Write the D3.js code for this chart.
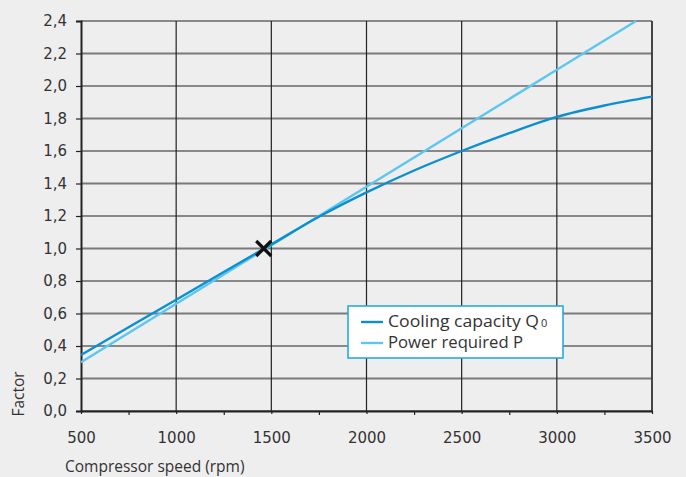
<!DOCTYPE html>
<html><head><meta charset="utf-8">
<script src="https://cdn.jsdelivr.net/npm/d3@7"></script>
<style>
html,body{margin:0;padding:0;background:#eeeeee;}
svg{display:block;font-family:"Open Sans",sans-serif;}
</style></head>
<body>
<svg id="c" width="686" height="477"></svg>
<script>
const speeds = [500, 750, 1000, 1250, 1500, 1750, 2000, 2250, 2500, 2750, 3000, 3250, 3500];
const coolingCapacity = [0.345, 0.515, 0.685, 0.855, 1.025, 1.195, 1.345, 1.48, 1.60, 1.71, 1.81, 1.88, 1.935];
const powerSpeeds = [500, 1000, 1500, 2000, 2500, 3000, 3416];
const powerRequired = [0.30, 0.66, 1.02, 1.38, 1.74, 2.10, 2.40];
const xTicks = [500, 1000, 1500, 2000, 2500, 3000, 3500];
const xMinorTicks = [750, 1250, 1750, 2250, 2750, 3250];
const yTicks = [0, 0.2, 0.4, 0.6, 0.8, 1.0, 1.2, 1.4, 1.6, 1.8, 2.0, 2.2, 2.4];
const designPoint = [1460, 1.0];
const seriesNames = ["Cooling capacity Q", "Power required P"];
const seriesSub = ["0", ""];

const TICKFONT = '"DejaVu Sans", sans-serif';
const svg = d3.select("#c");
const x = d3.scaleLinear().domain([500, 3500]).range([81, 652]);
const y = d3.scaleLinear().domain([0, 2.4]).range([411, 21]);
const fmt = d => d.toFixed(1).replace(".", ",");
const dark = "#0b8fd0", light = "#5cc6f2", txt = "#333";

// horizontal grid
yTicks.forEach((t, i) => {
  const major = i % 2 === 0;
  svg.append("line").attr("x1", x(500)).attr("x2", x(3500))
    .attr("y1", y(t)).attr("y2", y(t))
    .attr("stroke", major ? "#222" : "#7a7a7a")
    .attr("stroke-width", major ? 1.2 : 2);
});
// vertical grid
xTicks.slice(1).forEach(t => {
  svg.append("line").attr("x1", x(t)).attr("x2", x(t))
    .attr("y1", y(0)).attr("y2", y(2.4))
    .attr("stroke", t === 3500 ? "#333" : "#222").attr("stroke-width", t === 3500 ? 1.8 : 1.2);
});

// axes
const yAxis = d3.axisLeft(y).tickValues(yTicks).tickFormat(fmt).tickSize(5).tickPadding(9);
const gy = svg.append("g").attr("transform", `translate(${x(500)},0)`).call(yAxis)
  .attr("font-family", TICKFONT).attr("font-size", 15);
gy.select(".domain").attr("stroke", "#222").attr("stroke-width", 2);
gy.selectAll(".tick line").attr("stroke", "#222").attr("stroke-width", 1.2);
gy.selectAll(".tick text").attr("fill", txt);

const xAxis = d3.axisBottom(x).tickValues(xTicks).tickFormat(d3.format("d")).tickSize(3).tickPadding(18).tickSizeOuter(0);
const gx = svg.append("g").attr("transform", `translate(0,${y(0)})`).call(xAxis)
  .attr("font-family", TICKFONT).attr("font-size", 15);
gx.select(".domain").attr("stroke", "#222").attr("stroke-width", 2);
gx.selectAll(".tick line").attr("stroke", "#222").attr("stroke-width", 1.2);
gx.selectAll(".tick text").attr("fill", txt);
const gxm = svg.append("g").attr("transform", `translate(0,${y(0)})`)
  .call(d3.axisBottom(x).tickValues(xMinorTicks).tickFormat("").tickSize(4).tickSizeOuter(0));
gxm.select(".domain").remove();
gxm.selectAll(".tick line").attr("stroke", "#222").attr("stroke-width", 1.2);

// lines
const cool = speeds.map((s, i) => [s, coolingCapacity[i]]);
const pow = powerSpeeds.map((s, i) => [s, powerRequired[i]]);
const line = d3.line().x(d => x(d[0])).y(d => y(d[1])).curve(d3.curveMonotoneX);
svg.append("path").datum(pow).attr("d", line).attr("fill", "none").attr("stroke", light).attr("stroke-width", 2.4);
svg.append("path").datum(cool).attr("d", line).attr("fill", "none").attr("stroke", dark).attr("stroke-width", 2.4);

// marker
const mx = x(designPoint[0]), my = y(designPoint[1]), ms = 7.5;
svg.append("path").attr("d", `M${mx-ms},${my-ms}L${mx+ms},${my+ms}M${mx-ms},${my+ms}L${mx+ms},${my-ms}`)
  .attr("stroke", "#111").attr("stroke-width", 3.2).attr("fill", "none");

// legend
const legendWidths = [151, 135];
const lg = svg.append("g").attr("transform", "translate(348,306)");
lg.append("rect").attr("width", 215).attr("height", 52).attr("fill", "#fff")
  .attr("stroke", "#1aa6e0").attr("stroke-width", 1.5);
[dark, light].forEach((c, i) => {
  const yy = 16 + i * 21;
  lg.append("line").attr("x1", 13).attr("x2", 35).attr("y1", yy).attr("y2", yy)
    .attr("stroke", c).attr("stroke-width", 2.4);
  lg.append("text").attr("x", 40).attr("y", yy + 4.5).attr("fill", txt)
    .attr("textLength", legendWidths[i]).attr("lengthAdjust", "spacingAndGlyphs")
    .style("font-size", "17px").text(seriesNames[i]);
  if (seriesSub[i]) {
    lg.append("text").attr("x", 40 + legendWidths[i] + 2).attr("y", yy + 4.5).attr("fill", txt)
      .style("font-size", "11px").text(seriesSub[i]);
  }
});

// axis titles
svg.append("text").attr("x", 65).attr("y", 472).attr("fill", txt).style("font-size", "15.5px")
  .text("Compressor speed (rpm)");
svg.append("text").attr("transform", "translate(24,394) rotate(-90)").attr("text-anchor", "middle")
  .attr("fill", txt).style("font-size", "15.5px").text("Factor");
</script>
</body></html>
